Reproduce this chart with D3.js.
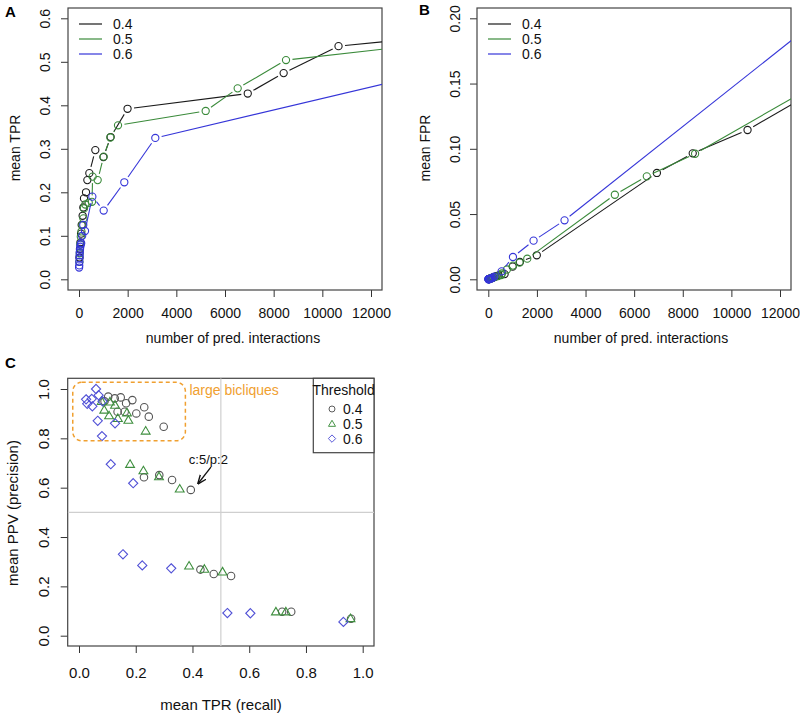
<!DOCTYPE html>
<html><head><meta charset="utf-8">
<script src="https://cdn.jsdelivr.net/npm/d3@7"></script>
<style>
html,body{margin:0;padding:0;background:#fff;}
svg text{font-family:"Liberation Sans",Arial,Helvetica,sans-serif;}
</style></head>
<body><svg id="c" width="800" height="715"></svg>
<script>
// ---------- DATA ----------
const thresholds = ["0.4","0.5","0.6"];
// Panels A & B: number of predicted interactions, mean TPR, mean FPR per threshold
const npred04 = [20,40,60,85,110,150,178,205,288,343,425,671,1003,1300,1995,6935,8410,10665,15000];
const tpr04   = [0.050,0.070,0.085,0.105,0.125,0.146,0.165,0.186,0.200,0.228,0.244,0.297,0.281,0.327,0.392,0.427,0.474,0.536,0.560];
const fpr04   = [0.0001,0.0002,0.0004,0.0006,0.0008,0.0011,0.0013,0.0015,0.0020,0.0025,0.0030,0.0040,0.0097,0.0133,0.0184,0.0815,0.0965,0.1144,0.1613];
const npred05 = [15,30,50,75,100,140,180,205,260,400,534,560,767,1014,1287,1603,5206,6521,8507,15000];
const tpr05   = [0.040,0.060,0.080,0.098,0.110,0.125,0.140,0.163,0.172,0.176,0.178,0.236,0.228,0.282,0.326,0.354,0.387,0.439,0.504,0.545];
const fpr05   = [0.0001,0.0002,0.0003,0.0005,0.0007,0.0009,0.0012,0.0014,0.0018,0.0025,0.0033,0.0045,0.0075,0.0105,0.0128,0.0158,0.0648,0.0789,0.0962,0.1654];
const npred06 = [5,10,15,20,25,30,40,55,70,90,130,175,247,548,1014,1862,3136,16000];
const tpr06   = [0.027,0.032,0.040,0.048,0.055,0.062,0.068,0.075,0.080,0.083,0.100,0.125,0.111,0.190,0.158,0.223,0.325,0.495];
const fpr06   = [0.0000,0.0001,0.0001,0.0001,0.0002,0.0002,0.0002,0.0003,0.0004,0.0005,0.0008,0.0012,0.0020,0.0061,0.0171,0.0296,0.0452,0.2352];
// Panel C: mean TPR (recall) vs mean PPV (precision)
const recallC04 = [0.394,0.328,0.283,0.229,0.2985,0.246,0.230,0.202,0.188,0.166,0.161,0.147,0.126,0.103,0.136,0.090,0.536,0.475,0.428,0.748,0.716,0.959];
const precC04   = [0.591,0.631,0.651,0.642,0.847,0.888,0.926,0.901,0.955,0.942,0.908,0.966,0.962,0.969,0.908,0.950,0.242,0.250,0.268,0.097,0.097,0.069];
const recallC05 = [0.355,0.282,0.227,0.180,0.235,0.174,0.169,0.137,0.106,0.089,0.127,0.109,0.080,0.388,0.442,0.506,0.694,0.729,0.957];
const precC05   = [0.595,0.645,0.669,0.695,0.830,0.874,0.904,0.881,0.892,0.915,0.935,0.948,0.950,0.283,0.270,0.259,0.097,0.097,0.070];
const recallC06 = [0.060,0.025,0.045,0.029,0.047,0.069,0.083,0.066,0.127,0.081,0.112,0.191,0.155,0.223,0.325,0.523,0.604,0.932];
const precC06   = [1.000,0.958,0.960,0.940,0.930,0.975,0.950,0.871,0.861,0.809,0.695,0.618,0.330,0.285,0.273,0.092,0.091,0.056];
const xTicksAB = [0,2000,4000,6000,8000,10000,12000];
const yTicksA = [0,0.1,0.2,0.3,0.4,0.5,0.6];
const yTicksB = [0,0.05,0.10,0.15,0.20];
const ticksC = [0,0.2,0.4,0.6,0.8,1.0];
const annotC = {label:"c:5/p:2", text:[0.456,0.714], from:[0.465,0.683], to:[0.420,0.617]};
const bicliqueBox = {x0:-0.022, x1:0.375, y0:0.790, y1:1.027, label:"large bicliques"};

// ---------- STYLE ----------
const lineCols = ["#1a1a1a","#3a8a3a","#3535d8"];
const ptCols = ["#555555","#3f8f3f","#5252d6"];
const FS = 14;
const svg = d3.select("#c");

function panel(o){
  const g = svg.append("g");
  const x = d3.scaleLinear().domain(o.xd).range(o.xr);
  const y = d3.scaleLinear().domain(o.yd).range(o.yr);
  const id = "clip"+o.name;
  const fs = o.fs || FS;
  svg.append("clipPath").attr("id",id).append("rect")
    .attr("x",o.box[0]).attr("y",o.box[1]).attr("width",o.box[2]-o.box[0]).attr("height",o.box[3]-o.box[1]);
  // x axis
  const xa = d3.axisBottom(x).tickValues(o.xt).tickSize(7).tickFormat(o.xf);
  const gx = g.append("g").attr("transform",`translate(0,${o.box[3]})`).call(xa);
  gx.select(".domain").remove();
  gx.selectAll("line").attr("stroke","#333");
  gx.selectAll("text").attr("font-size",fs).attr("fill","#111").attr("y",o.xlabOff).attr("dy",null)
    .attr("dominant-baseline","central");
  const ya = d3.axisLeft(y).tickValues(o.yt).tickSize(7).tickFormat(o.yf);
  const gy = g.append("g").attr("transform",`translate(${o.box[0]},0)`).call(ya);
  gy.select(".domain").remove();
  gy.selectAll("line").attr("stroke","#333");
  gy.selectAll("text").attr("font-size",fs).attr("fill","#111")
    .attr("text-anchor","middle").attr("x",0).attr("y",0).attr("dy",null)
    .attr("transform",`translate(${o.ylabX-o.box[0]},0) rotate(-90)`)
    .attr("dominant-baseline","central");
  // box
  g.append("rect").attr("x",o.box[0]).attr("y",o.box[1]).attr("width",o.box[2]-o.box[0]).attr("height",o.box[3]-o.box[1])
    .attr("fill","none").attr("stroke","#444").attr("stroke-width",1.2);
  // titles
  g.append("text").attr("x",o.xtitle[0]).attr("y",o.xtitle[1]).attr("text-anchor","middle").attr("dominant-baseline","central")
    .attr("font-size",fs).attr("fill","#111").text(o.xlab);
  g.append("text").attr("transform",`translate(${o.ytitle[0]},${o.ytitle[1]}) rotate(-90)`).attr("text-anchor","middle")
    .attr("dominant-baseline","central").attr("font-size",fs).attr("fill","#111").text(o.ylab);
  g.append("text").attr("x",o.letter[0]).attr("y",o.letter[1]).attr("font-size",15).attr("font-weight","bold").attr("fill","#000").text(o.name);
  return {g,x,y,clip:`url(#${id})`};
}

function typeB(P, xs, ys, col){
  const pts = xs.map((v,i)=>[P.x(v),P.y(ys[i])]);
  const gap = 6.5, r = 3.6;
  const lg = P.g.append("g").attr("clip-path",P.clip);
  for(let i=0;i<pts.length-1;i++){
    const [x0,y0]=pts[i],[x1,y1]=pts[i+1];
    const dx=x1-x0, dy=y1-y0, L=Math.hypot(dx,dy);
    if(L<=2*gap) continue;
    const ux=dx/L, uy=dy/L;
    lg.append("line").attr("x1",x0+ux*gap).attr("y1",y0+uy*gap).attr("x2",x1-ux*gap).attr("y2",y1-uy*gap)
      .attr("stroke",col).attr("stroke-width",1.1);
  }
  lg.selectAll(null).data(pts).enter().append("circle").attr("cx",d=>d[0]).attr("cy",d=>d[1]).attr("r",r)
    .attr("fill","none").attr("stroke",col).attr("stroke-width",1.1);
}

function lineLegend(P, lx, ly){
  thresholds.forEach((t,i)=>{
    const yy = ly + i*15;
    P.g.append("line").attr("x1",lx).attr("x2",lx+23).attr("y1",yy).attr("y2",yy).attr("stroke",lineCols[i]).attr("stroke-width",1.2);
    P.g.append("text").attr("x",lx+34).attr("y",yy).attr("dominant-baseline","central").attr("font-size",FS).attr("fill","#111").text(t);
  });
}

// ---------- Panel A ----------
const A = panel({name:"A", xd:[0,12000], xr:[79,371], yd:[0,0.6], yr:[279.3,18.3], box:[68,8,382,290],
  xt:xTicksAB, yt:yTicksA, xf:d3.format("d"), yf:d3.format(".1f"), ylabX:45, xlabOff:23,
  xlab:"number of pred. interactions", ylab:"mean TPR", xtitle:[233,338], ytitle:[15,148], letter:[5,17]});
typeB(A, npred04, tpr04, lineCols[0]);
typeB(A, npred05, tpr05, lineCols[1]);
typeB(A, npred06, tpr06, lineCols[2]);
lineLegend(A, 79, 24);

// ---------- Panel B ----------
const B = panel({name:"B", xd:[0,12000], xr:[488.3,780], yd:[0,0.2], yr:[279.3,18.3], box:[477,8,791,290],
  xt:xTicksAB, yt:yTicksB, xf:d3.format("d"), yf:d3.format(".2f"), ylabX:455, xlabOff:23,
  xlab:"number of pred. interactions", ylab:"mean FPR", xtitle:[641,338], ytitle:[425,148], letter:[419,15]});
typeB(B, npred04, fpr04, lineCols[0]);
typeB(B, npred05, fpr05, lineCols[1]);
typeB(B, npred06, fpr06, lineCols[2]);
lineLegend(B, 488, 24);

// ---------- Panel C ----------
const C = panel({name:"C", xd:[0,1], xr:[79,362.7], yd:[0,1], yr:[635.7,389], box:[67.7,378.3,374,646],
  xt:ticksC, yt:ticksC, xf:d3.format(".1f"), yf:d3.format(".1f"), ylabX:44, xlabOff:26, fs:15,
  xlab:"mean TPR (recall)", ylab:"mean PPV (precision)", xtitle:[221,704], ytitle:[12,513], letter:[5,368]});
const cg = C.g.append("g").attr("clip-path",C.clip);
cg.append("line").attr("x1",C.x(0.5)).attr("x2",C.x(0.5)).attr("y1",378.3).attr("y2",646).attr("stroke","#cfcfcf").attr("stroke-width",1.2);
cg.append("line").attr("y1",C.y(0.5)).attr("y2",C.y(0.5)).attr("x1",67.7).attr("x2",374).attr("stroke","#cfcfcf").attr("stroke-width",1.2);
// biclique box
C.g.append("rect").attr("x",C.x(bicliqueBox.x0)).attr("y",C.y(bicliqueBox.y1))
  .attr("width",C.x(bicliqueBox.x1)-C.x(bicliqueBox.x0)).attr("height",C.y(bicliqueBox.y0)-C.y(bicliqueBox.y1))
  .attr("rx",9).attr("ry",9).attr("fill","none").attr("stroke","#f0a030").attr("stroke-width",1.5).attr("stroke-dasharray","4,3");
C.g.append("text").attr("x",C.x(bicliqueBox.x1)+4).attr("y",C.y(0.995)).attr("dominant-baseline","central")
  .attr("font-size",FS).attr("fill","#f0a030").text(bicliqueBox.label);

function symPath(i){
  if(i===2){ // R pch 5 diamond
    const s = 4.6;
    return `M0,${-s}L${s},0L0,${s}L${-s},0Z`;
  }
  if(i===1){ // R pch 2 triangle
    const s = 4.2;
    return `M0,${-s*1.05}L${s*1.05},${s*0.75}L${-s*1.05},${s*0.75}Z`;
  }
  return d3.symbol(d3.symbolCircle, 44)();
}
const cSeries = [[recallC04,precC04],[recallC05,precC05],[recallC06,precC06]];
cSeries.forEach((s,i)=>{
  cg.selectAll(null).data(s[0].map((v,j)=>[v,s[1][j]])).enter().append("path")
    .attr("d",symPath(i)).attr("transform",d=>`translate(${C.x(d[0])},${C.y(d[1])})`)
    .attr("fill","none").attr("stroke",ptCols[i]).attr("stroke-width",1.1);
});
// annotation
C.g.append("defs").append("marker").attr("id","arr").attr("viewBox","0 0 10 10").attr("refX",9).attr("refY",5)
  .attr("markerWidth",7).attr("markerHeight",7).attr("orient","auto")
  .append("path").attr("d","M0,1L10,5L0,9").attr("fill","none").attr("stroke","#111").attr("stroke-width",1.5);
C.g.append("text").attr("x",C.x(annotC.text[0])).attr("y",C.y(annotC.text[1])).attr("text-anchor","middle")
  .attr("dominant-baseline","central").attr("font-size",13).attr("fill","#111").text(annotC.label);
C.g.append("line").attr("x1",C.x(annotC.from[0])).attr("y1",C.y(annotC.from[1])).attr("x2",C.x(annotC.to[0])).attr("y2",C.y(annotC.to[1]))
  .attr("stroke","#111").attr("stroke-width",1.3).attr("marker-end","url(#arr)");
// legend
const lgx0 = 313.3, lgy0 = 378.3;
C.g.append("rect").attr("x",lgx0).attr("y",lgy0).attr("width",374-lgx0).attr("height",452.7-lgy0)
  .attr("fill","#fff").attr("stroke","#444").attr("stroke-width",1.2);
C.g.append("text").attr("x",(lgx0+374)/2).attr("y",389.5).attr("text-anchor","middle").attr("dominant-baseline","central")
  .attr("font-size",FS).attr("fill","#111").text("Threshold");
thresholds.forEach((t,i)=>{
  const yy = 409 + i*14.8;
  C.g.append("path").attr("d",symPath(i)).attr("transform",`translate(332,${yy}) scale(0.8)`)
    .attr("fill","none").attr("stroke",ptCols[i]).attr("stroke-width",1.2);
  C.g.append("text").attr("x",343).attr("y",yy).attr("dominant-baseline","central").attr("font-size",FS).attr("fill","#111").text(t);
});
</script></body></html>
